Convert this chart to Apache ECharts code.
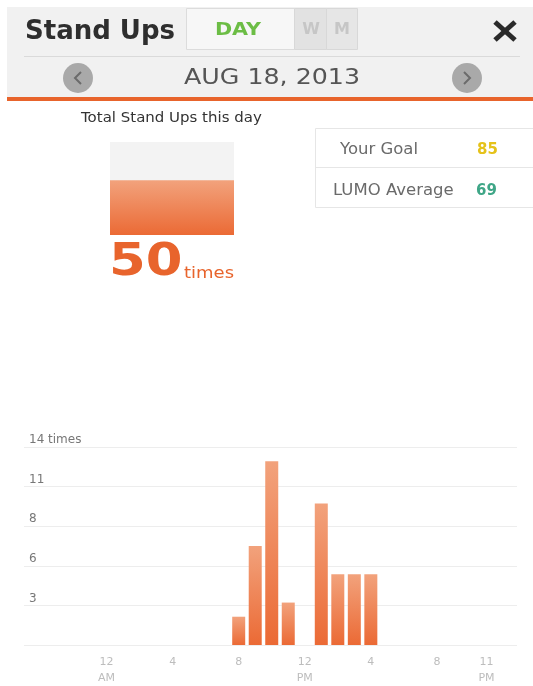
<!DOCTYPE html>
<html>
<head>
<meta charset="utf-8">
<title>Stand Ups</title>
<script src="https://cdn.jsdelivr.net/npm/echarts@6/dist/echarts.min.js"></script>
<style>
html, body { margin: 0; padding: 0; background: #fff; }
#stand-ups-chart { width: 533px; height: 686px; }
</style>
</head>
<body>
<div id="stand-ups-chart"></div>
<script>
// hourly stand ups, 12 AM .. 11 PM
var hours = [0, 1, 2, 3, 4, 5, 6, 7, 8, 9, 10, 11, 12, 13, 14, 15, 16, 17, 18, 19, 20, 21, 22, 23]
var standUps = [0, 0, 0, 0, 0, 0, 0, 0, 2, 7, 13, 3, 0, 10, 5, 5, 5, 0, 0, 0, 0, 0, 0, 0]

// axis ticks
var xTickHours = [0, 4, 8, 12, 16, 20, 23]
var xTickLabels = ['12\nAM', '4', '8', '12\nPM', '4', '8', '11\nPM']
var yMax = 14
var yTickLabels = ['', '3', '6', '8', '11', '14 times']

// summary
var dateLabel = 'AUG 18, 2013'
var yourGoal = 85
var lumoAverage = 69
var totalStandUps = standUps.reduce(function (a, b) { return a + b }, 0)

var FONT = 'DejaVu Sans'
var ORANGE = '#e8642c'

function barGradient() {
  return new echarts.graphic.LinearGradient(0, 0, 0, 1, [
    { offset: 0, color: '#f2a27c' },
    { offset: 1, color: '#eb6a35' }
  ])
}

// text element; sx widens the glyphs a little (the app font is wide)
function txt(x, y, text, size, color, weight, align, sx) {
  return {
    type: 'text',
    x: x,
    y: y,
    scaleX: sx || 1,
    style: {
      text: text,
      fontFamily: FONT,
      fontSize: size,
      fontWeight: weight || 'normal',
      fill: color,
      align: align || 'left',
      verticalAlign: 'middle'
    }
  }
}

var graphics = [
  // header
  { type: 'rect', shape: { x: 7, y: 7, width: 526, height: 90 }, style: { fill: '#f1f1f1' } },
  { type: 'rect', shape: { x: 7, y: 97, width: 526, height: 4 }, style: { fill: ORANGE } },
  { type: 'line', shape: { x1: 24, y1: 56.5, x2: 520, y2: 56.5 }, style: { stroke: '#dadada', lineWidth: 1 } },
  txt(25, 32, 'Stand Ups', 26, '#2e2e2e', 'bold'),
  { type: 'rect', shape: { x: 186.5, y: 8.5, width: 108, height: 41 }, style: { fill: '#f7f7f7', stroke: '#dcdcdc' } },
  { type: 'rect', shape: { x: 294.5, y: 8.5, width: 32, height: 41 }, style: { fill: '#e2e2e2', stroke: '#d8d8d8' } },
  { type: 'rect', shape: { x: 326.5, y: 8.5, width: 31, height: 41 }, style: { fill: '#e6e6e6', stroke: '#d8d8d8' } },
  txt(238, 30, 'DAY', 18, '#6cbd45', 'bold', 'center', 1.15),
  txt(311, 30, 'W', 16, '#c6c6c6', 'bold', 'center'),
  txt(342, 30, 'M', 16, '#c6c6c6', 'bold', 'center'),
  { type: 'line', shape: { x1: 495, y1: 22, x2: 515, y2: 40 }, style: { stroke: '#2a2a2a', lineWidth: 5 } },
  { type: 'line', shape: { x1: 515, y1: 22, x2: 495, y2: 40 }, style: { stroke: '#2a2a2a', lineWidth: 5 } },
  { type: 'circle', shape: { cx: 78, cy: 78, r: 15 }, style: { fill: '#a9a9a9' } },
  { type: 'polyline', shape: { points: [[81, 72], [75, 78], [81, 84]] }, style: { stroke: '#6b6b6b', lineWidth: 2, fill: null } },
  { type: 'circle', shape: { cx: 467, cy: 78, r: 15 }, style: { fill: '#a9a9a9' } },
  { type: 'polyline', shape: { points: [[464, 72], [470, 78], [464, 84]] }, style: { stroke: '#6b6b6b', lineWidth: 2, fill: null } },
  txt(272, 78, dateLabel, 22, '#555555', 'normal', 'center', 1.15),

  // total block
  txt(81, 118, 'Total Stand Ups this day', 14, '#333333', 'normal', 'left', 1.07),
  txt(109, 264, String(totalStandUps), 44, ORANGE, 'bold', 'left', 1.2),
  txt(184, 274, 'times', 15, ORANGE, 'normal', 'left', 1.2),

  // goal table
  { type: 'rect', shape: { x: 315.5, y: 128.5, width: 230, height: 79 }, style: { fill: '#ffffff', stroke: '#e6e6e6' } },
  { type: 'line', shape: { x1: 316, y1: 167.5, x2: 533, y2: 167.5 }, style: { stroke: '#e6e6e6', lineWidth: 1 } },
  txt(340, 150, 'Your Goal', 15, '#6a6a6a', 'normal', 'left', 1.1),
  txt(477, 150, String(yourGoal), 15, '#e5c21a', 'bold'),
  txt(333, 191, 'LUMO Average', 15, '#6a6a6a', 'normal', 'left', 1.1),
  txt(476, 191, String(lumoAverage), 15, '#3fa687', 'bold')
]

var options = {
  animation: false,
  backgroundColor: '#ffffff',
  graphic: { elements: graphics },
  grid: [
    { left: 24, right: 16, top: 447, bottom: 40 },
    { left: 110, top: 142, width: 124, height: 93 }
  ],
  xAxis: [
    {
      type: 'value',
      gridIndex: 0,
      min: -5,
      max: 24.85,
      interval: 1,
      splitLine: { show: false },
      axisLine: { show: false },
      axisTick: { show: false },
      axisLabel: {
        margin: 9,
        color: '#bdbdbd',
        fontFamily: FONT,
        fontSize: 11,
        lineHeight: 16,
        formatter: function (v) {
          var i = xTickHours.indexOf(Math.round(v))
          return i >= 0 && Math.abs(v - Math.round(v)) < 1e-6 ? xTickLabels[i] : ''
        }
      }
    },
    {
      type: 'category',
      gridIndex: 1,
      data: ['total'],
      show: false
    }
  ],
  yAxis: [
    {
      type: 'value',
      gridIndex: 0,
      min: 0,
      max: yMax,
      interval: yMax / 5,
      axisLine: { show: false },
      axisTick: { show: false },
      splitLine: { show: true, lineStyle: { color: '#ededed', width: 1 } },
      axisLabel: {
        inside: true,
        margin: 5,
        align: 'left',
        verticalAlign: 'bottom',
        padding: [0, 0, 1, 0],
        color: '#777777',
        fontFamily: FONT,
        fontSize: 12,
        formatter: function (v) {
          return yTickLabels[Math.round(v / (yMax / 5))] || ''
        }
      }
    },
    {
      type: 'value',
      gridIndex: 1,
      min: 0,
      max: yourGoal,
      show: false
    }
  ],
  series: [
    {
      name: 'Stand Ups',
      type: 'bar',
      xAxisIndex: 0,
      yAxisIndex: 0,
      barWidth: 13,
      itemStyle: { color: barGradient() },
      data: hours.map(function (h, i) { return [h, standUps[i]] })
    },
    {
      name: 'Total',
      type: 'bar',
      xAxisIndex: 1,
      yAxisIndex: 1,
      barWidth: '100%',
      showBackground: true,
      backgroundStyle: { color: '#f3f3f3' },
      itemStyle: { color: barGradient() },
      data: [totalStandUps]
    }
  ]
}

var chart = echarts.init(document.getElementById('stand-ups-chart'))
chart.setOption(options)
</script>
</body>
</html>
